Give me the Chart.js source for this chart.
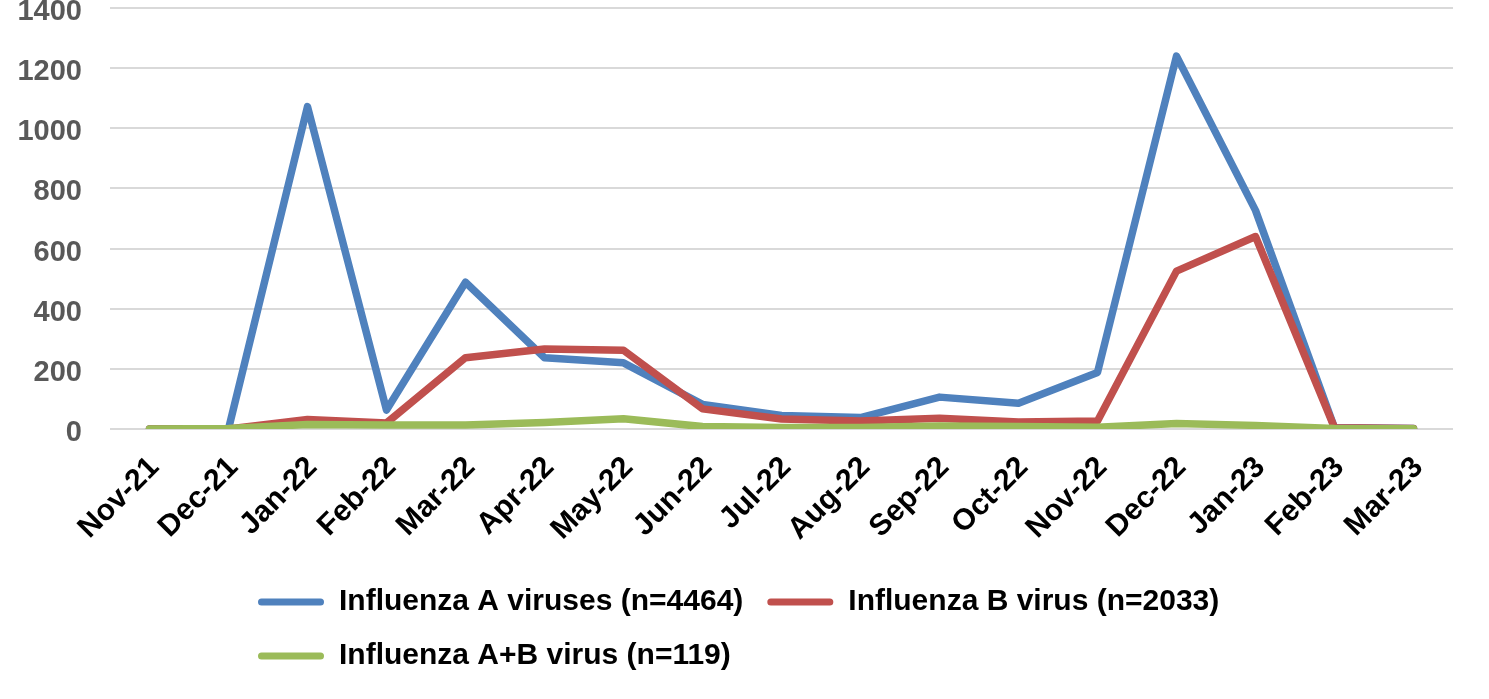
<!DOCTYPE html>
<html>
<head>
<meta charset="utf-8">
<script src="https://cdn.jsdelivr.net/npm/chart.js@4/dist/chart.umd.min.js"></script>
<style>
  html, body { margin: 0; padding: 0; background: #ffffff; }
  #wrap { width: 1489px; height: 699px; }
</style>
</head>
<body>
<div id="wrap"><canvas id="c" width="1489" height="699"></canvas></div>
<script>
const categories = ["Nov-21","Dec-21","Jan-22","Feb-22","Mar-22","Apr-22","May-22","Jun-22","Jul-22","Aug-22","Sep-22","Oct-22","Nov-22","Dec-22","Jan-23","Feb-23","Mar-23"];
const fluA  = [0, 0, 1072, 63, 488, 237, 220, 82, 45, 38, 106, 86, 188, 1240, 727, 4, 2];
const fluB  = [0, 0, 32, 20, 237, 266, 262, 67, 33, 27, 36, 23, 27, 525, 640, 4, 2];
const fluAB = [0, 2, 15, 13, 13, 22, 34, 8, 5, 5, 10, 8, 6, 18, 12, 2, 1];
const seriesNames = ["Influenza A viruses (n=4464)", "Influenza B virus (n=2033)", "Influenza A+B virus (n=119)"];
const seriesColors = ["#4F81BD", "#C0504D", "#9BBB59"];
const yMin = 0, yMax = 1400, yStep = 200;

const FONT = '"Liberation Sans", Arial, Helvetica, sans-serif';
const LEGEND_X = 258;
const LEGEND_WRAP = 1100;

const legendLayout = {
  id: 'legendLayout',
  beforeLayout(chart) {
    const lg = chart.legend;
    if (lg && typeof lg._fitRows === 'function' && !lg._wrapPatched) {
      const orig = lg._fitRows;
      lg._fitRows = function (...args) {
        const mw = this.maxWidth;
        this.maxWidth = Math.min(mw, LEGEND_WRAP);
        const r = orig.apply(this, args);
        this.maxWidth = mw;
        return r;
      };
      lg._wrapPatched = true;
    }
  },
  beforeDraw(chart) {
    const lg = chart.legend;
    if (lg) {
      const pad = lg.options.labels.padding;
      lg.left = LEGEND_X - pad;
    }
  }
};

const datasets = [fluA, fluB, fluAB].map((vals, i) => ({
  label: seriesNames[i],
  data: vals,
  borderColor: seriesColors[i],
  backgroundColor: seriesColors[i],
  borderWidth: 7.5,
  pointRadius: 0,
  pointHoverRadius: 0,
  tension: 0,
  fill: false,
  borderCapStyle: 'round',
  borderJoinStyle: 'round',
  order: 3 - i
}));

new Chart(document.getElementById('c'), {
  type: 'line',
  data: { labels: categories, datasets },
  plugins: [legendLayout],
  options: {
    responsive: false,
    animation: false,
    devicePixelRatio: 1,
    layout: { padding: { top: 8, right: 36, bottom: 18, left: 0 } },
    plugins: {
      tooltip: { enabled: false },
      legend: {
        position: 'bottom',
        align: 'start',
        labels: {
          font: { family: FONT, size: 30, weight: 'bold' },
          color: '#000000',
          boxWidth: 66,
          boxHeight: 7,
          padding: 24,
          useBorderRadius: true,
          borderRadius: 3.5,
          sort: (a, b) => a.datasetIndex - b.datasetIndex,
          generateLabels(chart) {
            const items = Chart.defaults.plugins.legend.labels.generateLabels(chart);
            return items.map(it => Object.assign(it, {
              fillStyle: it.strokeStyle,
              lineWidth: 0,
              borderRadius: 3.5
            }));
          }
        }
      }
    },
    scales: {
      x: {
        offset: true,
        grid: { display: false, drawTicks: false },
        border: { display: false },
        ticks: {
          autoSkip: false,
          minRotation: 45,
          maxRotation: 45,
          padding: 21,
          labelOffset: 5,
          color: '#000000',
          font: { family: FONT, size: 30, weight: 'bold' }
        },
        afterFit(s) { s.height = 134; s.paddingLeft = 0; s.paddingRight = 0; }
      },
      y: {
        min: yMin,
        max: yMax,
        grid: { color: '#D9D9D9', lineWidth: 2, drawTicks: false },
        border: { display: false },
        ticks: {
          stepSize: yStep,
          padding: 28,
          labelOffset: 4,
          color: '#595959',
          font: { family: FONT, size: 29, weight: 'bold' },
          callback: (v) => String(v)
        },
        afterFit(s) { s.width = 110; s.paddingTop = 0; s.paddingBottom = 0; }
      }
    }
  }
});
</script>
</body>
</html>
